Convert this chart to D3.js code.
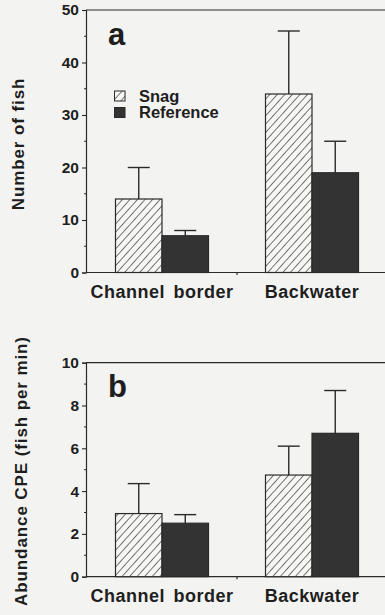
<!DOCTYPE html>
<html><head><meta charset="utf-8">
<script src="https://cdn.jsdelivr.net/npm/d3@7"></script>
<style>
html,body{margin:0;padding:0;background:#f3f3f1;}
svg{display:block;}
text{font-family:"Liberation Sans",Arial,Helvetica,sans-serif;font-weight:bold;fill:#1e1e1e;}
</style></head>
<body>
<script>
const categories = ["Channel border", "Backwater"];
const series = ["Snag", "Reference"];
// Panel a: Number of fish
const fishMean = [[14, 7], [34, 19]];
const fishErr  = [[20, 8], [46, 25]];
// Panel b: Abundance CPE (fish per min)
const cpeMean = [[2.95, 2.5], [4.75, 6.7]];
const cpeErr  = [[4.35, 2.9], [6.1, 8.7]];
const ticksA = [0, 10, 20, 30, 40, 50];
const ticksB = [0, 2, 4, 6, 8, 10];

const W = 385, H = 615;
const svg = d3.select("body").append("svg").attr("width", W).attr("height", H);

const defs = svg.append("defs");
const pat = defs.append("pattern").attr("id", "hatch").attr("patternUnits", "userSpaceOnUse")
  .attr("width", 5.6).attr("height", 5.6).attr("patternTransform", "rotate(42)");
pat.append("rect").attr("width", 5.6).attr("height", 5.6).attr("fill", "#f6f6f4");
pat.append("line").attr("x1", 0).attr("y1", 0).attr("x2", 0).attr("y2", 5.6)
  .attr("stroke", "#2e2e2e").attr("stroke-width", 1.3);

const xLeft = 86, xRight = 385;
const x = d3.scaleBand().domain(categories).range([87, 387]).padding(0);
const xs = d3.scaleBand().domain(series).range([-46.5, 46.5]).padding(0);

function panel(cfg) {
  const y = d3.scaleLinear().domain(cfg.domain).range([cfg.y0, cfg.y1]);
  const g = svg.append("g");
  const col = "#2a2a2a";
  g.append("line").attr("x1", xLeft).attr("x2", xRight).attr("y1", y(cfg.domain[1])).attr("y2", y(cfg.domain[1])).attr("stroke", col).attr("stroke-width", 1.2);
  const yAxis = d3.axisLeft(y).tickValues(cfg.ticks).tickSize(4).tickPadding(3).tickFormat(d3.format("d"));
  const ya = g.append("g").attr("transform", `translate(${xLeft},0)`).call(yAxis);
  ya.select(".domain").attr("stroke", col).attr("stroke-width", 1.2);
  ya.selectAll(".tick line").attr("stroke", col).attr("stroke-width", 1.1);
  ya.selectAll(".tick text").attr("font-size", 15.5).style("font-weight", "bold")
    .style("font-family", '"Liberation Sans",Arial,sans-serif').attr("fill", "#1e1e1e");
  const minor = d3.range(cfg.domain[0] + cfg.minorStep, cfg.domain[1], cfg.minorStep * 2);
  g.selectAll(".minor").data(minor).join("line")
    .attr("x1", xLeft - 2).attr("x2", xLeft).attr("y1", d => y(d)).attr("y2", d => y(d))
    .attr("stroke", col).attr("stroke-width", 1);
  const xa = g.append("g").attr("transform", `translate(0,${y(0)})`)
    .call(d3.axisBottom(x).tickSize(0).tickPadding(11));
  xa.select(".domain").attr("d", `M${xLeft},0H${xRight}`).attr("stroke", col).attr("stroke-width", 1.2);
  xa.selectAll(".tick text").attr("font-size", 18).style("font-weight", "bold")
    .style("font-family", '"Liberation Sans",Arial,sans-serif').attr("fill", "#1e1e1e")
    .style("letter-spacing", "0.5px").style("word-spacing", "3px").attr("dy", "0.78em");
  g.append("line").attr("x1", x("Backwater")).attr("x2", x("Backwater"))
    .attr("y1", y(0)).attr("y2", y(0) + 2.5).attr("stroke", col).attr("stroke-width", 1.2);

  const rows = [];
  categories.forEach((c, i) => series.forEach((s, j) => rows.push({c, s, v: cfg.mean[i][j], e: cfg.err[i][j]})));
  const cx = d => x(d.c) + x.bandwidth() / 2 + xs(d.s);
  g.selectAll(".eb").data(rows).join("line")
    .attr("x1", d => cx(d) + xs.bandwidth() / 2).attr("x2", d => cx(d) + xs.bandwidth() / 2)
    .attr("y1", d => y(d.v)).attr("y2", d => y(d.e)).attr("stroke", col).attr("stroke-width", 1.4);
  g.selectAll(".cap").data(rows).join("line")
    .attr("x1", d => cx(d) + xs.bandwidth() / 2 - 11).attr("x2", d => cx(d) + xs.bandwidth() / 2 + 11)
    .attr("y1", d => y(d.e)).attr("y2", d => y(d.e)).attr("stroke", col).attr("stroke-width", 1.4);
  g.selectAll(".bar").data(rows).join("rect")
    .attr("x", d => cx(d)).attr("width", xs.bandwidth())
    .attr("y", d => y(d.v)).attr("height", d => y(0) - y(d.v))
    .attr("fill", d => d.s === "Snag" ? "url(#hatch)" : "#333")
    .attr("stroke", "#2a2a2a").attr("stroke-width", 1.2);

  g.append("text").attr("x", 108).attr("y", cfg.letterY).attr("font-size", 31).text(cfg.letter);
  g.append("text").attr("transform", `translate(${cfg.titleX},${cfg.titleY}) rotate(-90)`)
    .attr("text-anchor", "middle").attr("font-size", 17).style("letter-spacing", cfg.ls)
    .text(cfg.title);
  return y;
}

panel({domain: [0, 50], y0: 272.5, y1: 10, ticks: ticksA, minorStep: 5,
  mean: fishMean, err: fishErr, letter: "a", letterY: 45,
  title: "Number of fish", titleX: 24, titleY: 144, ls: "0.9px"});
panel({domain: [0, 10], y0: 576.7, y1: 362.7, ticks: ticksB, minorStep: 1,
  mean: cpeMean, err: cpeErr, letter: "b", letterY: 397,
  title: "Abundance CPE (fish per min)", titleX: 26.5, titleY: 471, ls: "0.9px"});

const leg = svg.append("g");
series.forEach((s, i) => {
  leg.append("rect").attr("x", 114.5).attr("y", 91 + i * 16.5).attr("width", 10.5).attr("height", 10)
    .attr("fill", s === "Snag" ? "url(#hatch)" : "#333").attr("stroke", "#2a2a2a").attr("stroke-width", 1);
  leg.append("text").attr("x", 139).attr("y", 101.5 + i * 16.5).attr("font-size", 16.5).text(s);
});
</script>
</body></html>
